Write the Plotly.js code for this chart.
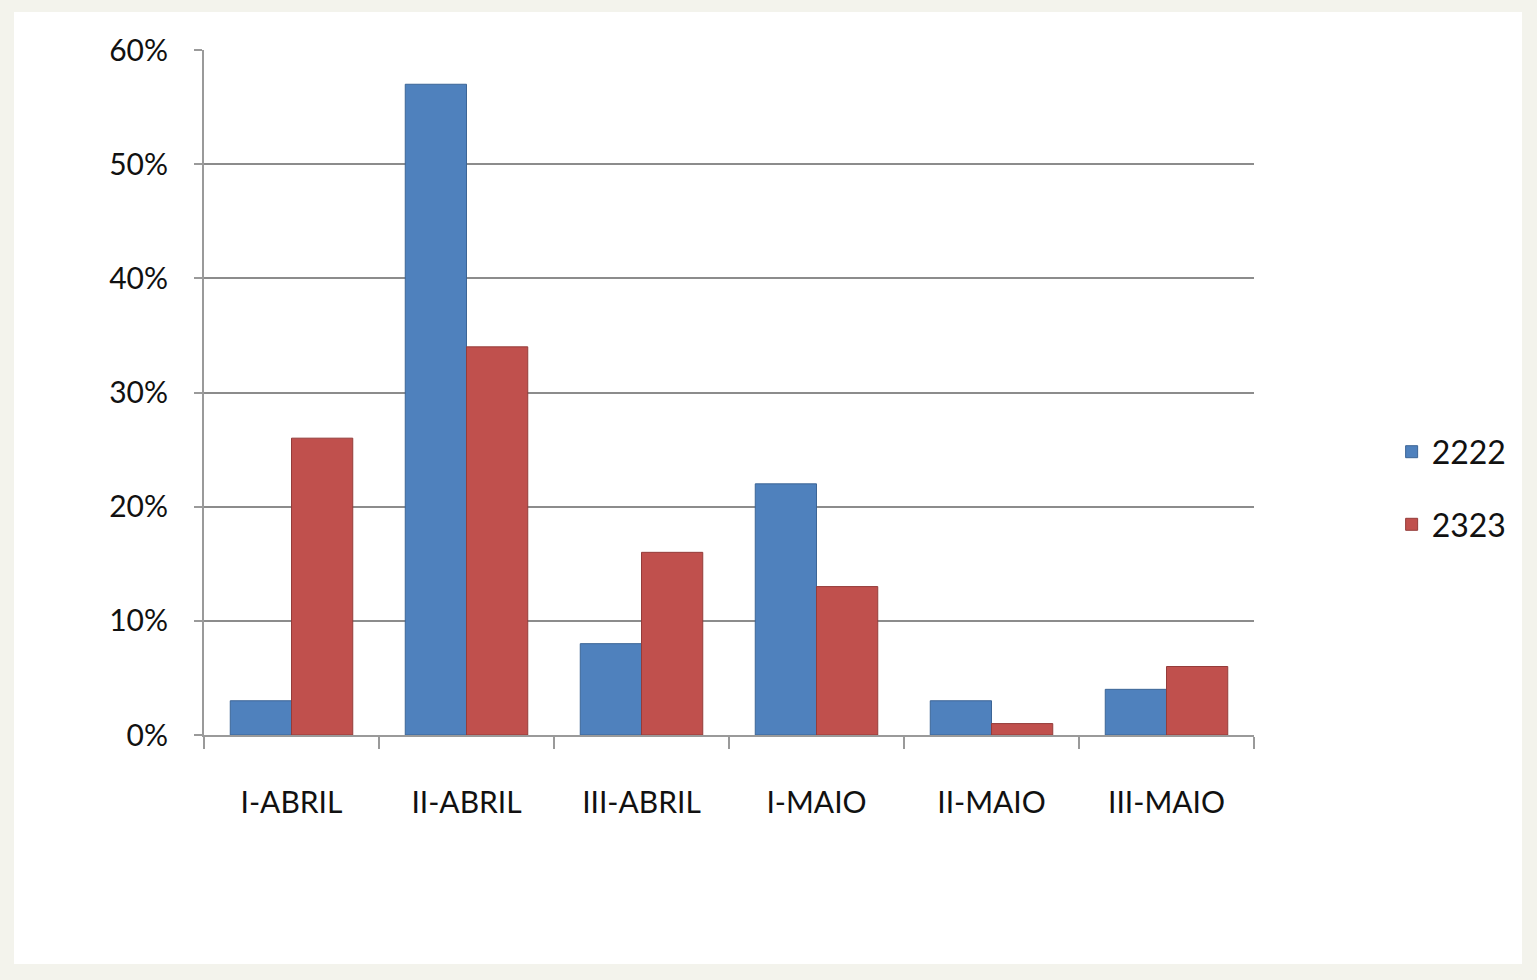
<!DOCTYPE html>
<html>
<head>
<meta charset="utf-8">
<script src="https://cdn.plot.ly/plotly-3.0.1.min.js"></script>
<style>
html, body { margin: 0; padding: 0; background: #f3f3ec; }
#wrap { position: absolute; left: 14px; top: 12px; width: 1508px; height: 952px; background: #ffffff; }
#chart { width: 1508px; height: 952px; }
</style>
</head>
<body>
<div id="wrap"><div id="chart"></div></div>
<script>
const categories = ["I-ABRIL", "II-ABRIL", "III-ABRIL", "I-MAIO", "II-MAIO", "III-MAIO"];
const series2222 = [0.03, 0.57, 0.08, 0.22, 0.03, 0.04];
const series2323 = [0.26, 0.34, 0.16, 0.13, 0.01, 0.06];
const seriesNames = ["2222", "2323"];
const yTicks = [0, 0.1, 0.2, 0.3, 0.4, 0.5, 0.6];
const yTickLabels = ["0%", "10%", "20%", "30%", "40%", "50%", "60%"];

const traces = [
  { type: "bar", name: seriesNames[0], legendgroup: "a", x: categories, y: series2222,
    marker: { color: "#4f81bd", line: { color: "#3c6596", width: 1 } } },
  { type: "bar", name: seriesNames[1], legendgroup: "b", x: categories, y: series2323,
    marker: { color: "#c0504d", line: { color: "#943c3a", width: 1 } } }
];

const layout = {
  width: 1508, height: 952,
  paper_bgcolor: "#ffffff", plot_bgcolor: "#ffffff",
  font: { family: "Lato, 'Open Sans', sans-serif", color: "#111111" },
  margin: { l: 190, r: 267, t: 38, b: 229 },
  barmode: "group",
  bargap: 0.3,
  bargroupgap: 0,
  xaxis: {
    showline: true, linecolor: "#9a9a9a", linewidth: 2,
    ticks: "outside", ticklen: 12, tickcolor: "#9a9a9a", tickwidth: 2,
    tickson: "boundaries",
    ticklabelstandoff: 40,
    tickfont: { size: 30, color: "#111111" }
  },
  yaxis: {
    range: [0, 0.6],
    tickvals: yTicks, ticktext: yTickLabels,
    showgrid: true, gridcolor: "#8c8c8c", gridwidth: 2,
    showline: true, linecolor: "#9a9a9a", linewidth: 2,
    ticks: "outside", ticklen: 8, tickcolor: "#9a9a9a", tickwidth: 2,
    ticklabelstandoff: 20,
    zeroline: false,
    tickfont: { size: 30, color: "#111111" }
  },
  legend: {
    x: 1.13, y: 0.36, xanchor: "left", yanchor: "middle",
    font: { size: 32, color: "#111111" },
    tracegroupgap: 28, itemwidth: 30
  },
  showlegend: true
};

Plotly.newPlot("chart", traces, layout, { displayModeBar: false, staticPlot: true });
</script>
</body>
</html>
